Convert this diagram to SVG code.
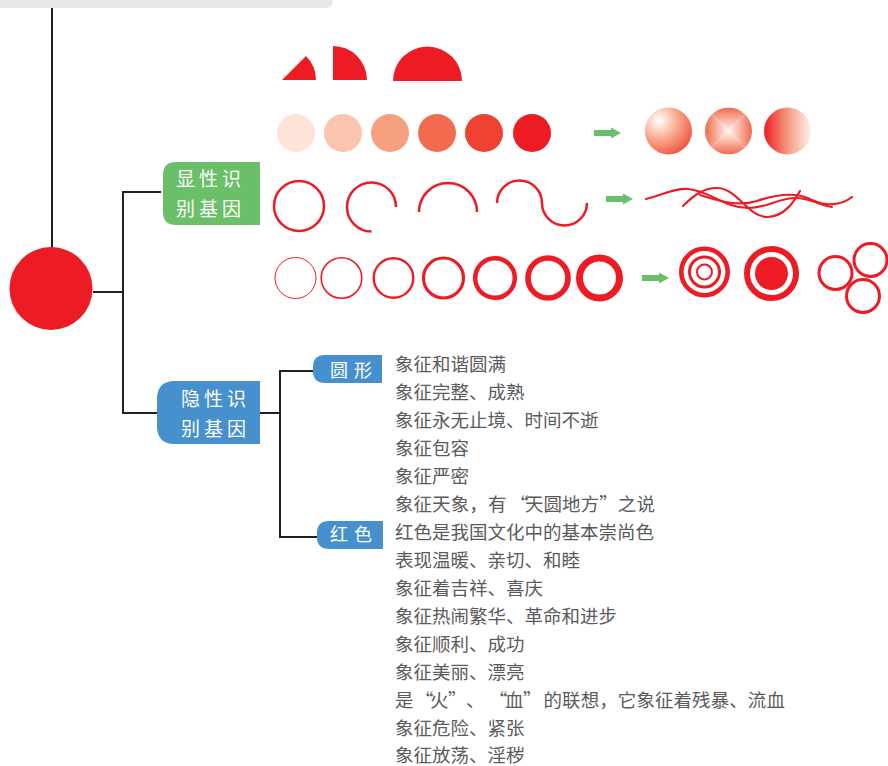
<svg xmlns="http://www.w3.org/2000/svg" width="888" height="766" viewBox="0 0 888 766">
  <defs>
    <style>
      .ln { stroke: #231f20; stroke-width: 2; fill: none; }
      .red { fill: #ed1c24; }
      .ring { fill: none; stroke: #ed1c24; }
      .arc { fill: none; stroke: #ed1c24; stroke-width: 2.5; stroke-linecap: butt; }
      .wave { fill: none; stroke: #ed1c24; stroke-width: 2.2; stroke-linecap: round; }
      .lbl { font-family: "Noto Sans CJK SC", "Noto Sans", sans-serif; font-size: 19px; fill: #ffffff; letter-spacing: 4px; }
      .sm { font-family: "Noto Sans CJK SC", "Noto Sans", sans-serif; font-size: 18px; fill: #ffffff; letter-spacing: 6px; }
      .txt { font-family: "Noto Sans CJK SC", "Noto Sans", sans-serif; font-size: 18.5px; fill: #5a5b5d; }
      .arrow { fill: #6abf69; }
    </style>
    <radialGradient id="gBall" cx="0.3" cy="0.28" r="0.85">
      <stop offset="0" stop-color="#ffffff"/>
      <stop offset="0.45" stop-color="#f8ad92"/>
      <stop offset="1" stop-color="#ee4a32"/>
    </radialGradient>
    <linearGradient id="gSide" x1="0" y1="0" x2="1" y2="0">
      <stop offset="0" stop-color="#ed1c24"/>
      <stop offset="0.5" stop-color="#f49a7e"/>
      <stop offset="1" stop-color="#fdf0ea"/>
    </linearGradient>
    <!-- square gradient built from four triangles -->
    <linearGradient id="gT" x1="0" y1="0" x2="0" y2="1"><stop offset="0" stop-color="#f06a4c"/><stop offset="1" stop-color="#fff6f2"/></linearGradient>
    <linearGradient id="gB" x1="0" y1="1" x2="0" y2="0"><stop offset="0" stop-color="#f06a4c"/><stop offset="1" stop-color="#fff6f2"/></linearGradient>
    <linearGradient id="gL" x1="0" y1="0" x2="1" y2="0"><stop offset="0" stop-color="#f06a4c"/><stop offset="1" stop-color="#fff6f2"/></linearGradient>
    <linearGradient id="gR" x1="1" y1="0" x2="0" y2="0"><stop offset="0" stop-color="#f06a4c"/><stop offset="1" stop-color="#fff6f2"/></linearGradient>
    <clipPath id="cSq"><circle cx="728.5" cy="131" r="23.5"/></clipPath>
    <symbol id="garrow" viewBox="0 0 27 10" overflow="visible">
      <path class="arrow" d="M0,2 H17 V-0.5 L27,5 L17,10.5 V8 H0 Z"/>
    </symbol>
  </defs>

  <!-- header band -->
  <path d="M0,0 H333 V0 Q333,8 325,8 H0 Z" fill="#e6e7e8"/>

  <!-- connectors -->
  <g id="connectors">
    <line class="ln" x1="52" y1="8" x2="52" y2="248"/>
    <line class="ln" x1="93" y1="292" x2="123" y2="292"/>
    <path class="ln" d="M161,192 H123 V413 H160"/>
    <line class="ln" x1="260" y1="413" x2="280" y2="413"/>
    <path class="ln" d="M313,371 H280 V537 H317"/>
  </g>

  <!-- root -->
  <g id="root">
    <circle class="red" cx="51" cy="288.5" r="41.5"/>
  </g>

  <!-- explicit genes -->
  <g id="explicit">
    <path d="M176,162 H260 V225 H176 Q163,225 163,212 V175 Q163,162 176,162 Z" fill="#6abf69"/>
    <text class="lbl" x="176" y="186">显性识</text>
    <text class="lbl" x="176" y="216">别基因</text>
  </g>

  <!-- implicit genes -->
  <g id="implicit">
    <path d="M175,381 H260 V444 H175 Q157,444 157,426 V399 Q157,381 175,381 Z" fill="#4690cd"/>
    <text class="lbl" x="181" y="406">隐性识</text>
    <text class="lbl" x="181" y="436">别基因</text>
  </g>

  <g id="shape">
    <path d="M325,355 H382 V383 H325 Q313,383 313,371 V367 Q313,355 325,355 Z" fill="#4690cd"/>
    <text class="sm" x="330" y="377">圆形</text>
  </g>

  <g id="colour">
    <path d="M329,521 H383 V549 H329 Q317,549 317,537 V533 Q317,521 329,521 Z" fill="#4690cd"/>
    <text class="sm" x="330" y="541">红色</text>
  </g>

  <!-- row 1: sectors -->
  <g id="sectors">
    <path class="red" d="M282,80 L306,56 A34,34 0 0 1 316,80 Z"/>
    <path class="red" d="M333,80 V46 A34,34 0 0 1 367,80 Z"/>
    <path class="red" d="M393,81 A34.5,34.5 0 0 1 462,81 Z"/>
  </g>

  <!-- row 2: tints and gradients -->
  <g id="tints">
    <circle cx="296" cy="133" r="19" fill="#fde3d8"/>
    <circle cx="343" cy="133" r="19" fill="#fbc4ae"/>
    <circle cx="390" cy="133" r="19" fill="#f79f81"/>
    <circle cx="437" cy="133" r="19" fill="#f36b4f"/>
    <circle cx="484" cy="133" r="19" fill="#ef4232"/>
    <circle cx="532" cy="133" r="19" fill="#ed1c24"/>
    <use href="#garrow" x="594" y="128" width="27" height="10"/>
    <circle cx="668.5" cy="131" r="23.5" fill="url(#gBall)"/>
    <g clip-path="url(#cSq)">
      <polygon points="705,107.5 752,107.5 728.5,131" fill="url(#gT)"/>
      <polygon points="705,154.5 752,154.5 728.5,131" fill="url(#gB)"/>
      <polygon points="705,107.5 705,154.5 728.5,131" fill="url(#gL)"/>
      <polygon points="752,107.5 752,154.5 728.5,131" fill="url(#gR)"/>
    </g>
    <circle cx="787.5" cy="131" r="23.5" fill="url(#gSide)"/>
  </g>

  <!-- row 3: arcs and waves -->
  <g id="arcs">
    <circle class="arc" cx="299" cy="206" r="25"/>
    <path class="arc" d="M396,207 A24.5,24.5 0 1 0 371.5,231.5"/>
    <path class="arc" d="M419,212 A29,29 0 0 1 477,212"/>
    <path class="arc" d="M497,203 A22.5,22.5 0 0 1 542,203 A22.5,22.5 0 0 0 587,203"/>
    <use href="#garrow" x="606" y="194" width="27" height="10"/>
    <path class="wave" d="M646,199 C665,194 675,188 688,189 C710,191 725,208 748,208 C768,208 778,198 795,198 C812,198 820,206 832,207"/>
    <path class="wave" d="M683,206 C693,196 703,188 717,188 C737,188 748,217 767,217 C785,217 795,200 800,191"/>
    <path class="wave" d="M700,195 C720,201 737,207 757,201 C777,194 797,192 812,200 C827,207 842,205 852,197"/>
  </g>

  <!-- row 4: rings -->
  <g id="rings">
    <circle class="ring" cx="295.5" cy="278" r="20.5" stroke-width="1"/>
    <circle class="ring" cx="341.5" cy="278" r="20.3" stroke-width="1.6"/>
    <circle class="ring" cx="393.5" cy="278" r="19.8" stroke-width="2.4"/>
    <circle class="ring" cx="443.5" cy="278" r="20" stroke-width="3.2"/>
    <circle class="ring" cx="495" cy="278" r="19.8" stroke-width="4.5"/>
    <circle class="ring" cx="548" cy="278" r="20" stroke-width="5.6"/>
    <circle class="ring" cx="599.5" cy="278" r="20" stroke-width="7"/>
    <use href="#garrow" x="642" y="273" width="27" height="10"/>
    <circle class="ring" cx="704.5" cy="272" r="23.2" stroke-width="4.6"/>
    <circle class="ring" cx="704.5" cy="272" r="15" stroke-width="3"/>
    <circle class="ring" cx="704.5" cy="272" r="7.5" stroke-width="2"/>
    <circle class="ring" cx="771.5" cy="273.5" r="24.5" stroke-width="6"/>
    <circle class="red" cx="771.5" cy="273.5" r="16.5"/>
    <circle class="ring" cx="835.5" cy="273" r="16.5" stroke-width="3"/>
    <circle class="ring" cx="870.5" cy="260" r="16.5" stroke-width="3"/>
    <circle class="ring" cx="863" cy="296" r="16.5" stroke-width="3"/>
  </g>

  <!-- meanings -->
  <g id="meanings">
    <text class="txt" x="395" y="371">象征和谐圆满</text>
    <text class="txt" x="395" y="399">象征完整、成熟</text>
    <text class="txt" x="395" y="427">象征永无止境、时间不逝</text>
    <text class="txt" x="395" y="455">象征包容</text>
    <text class="txt" x="395" y="483">象征严密</text>
    <text class="txt" x="395 413.6 432.1 450.7 469.3 487.9 510 525 543.6 562.1 580.7 599.3 617.8 636.4" y="511">象征天象，有“天圆地方”之说</text>
    <text class="txt" x="395" y="539">红色是我国文化中的基本崇尚色</text>
    <text class="txt" x="395" y="567">表现温暖、亲切、和睦</text>
    <text class="txt" x="395" y="595">象征着吉祥、喜庆</text>
    <text class="txt" x="395" y="623">象征热闹繁华、革命和进步</text>
    <text class="txt" x="395" y="651">象征顺利、成功</text>
    <text class="txt" x="395" y="679">象征美丽、漂亮</text>
    <text class="txt" x="395 415 430 448 466 489 505 523 543.6 562.1 580.7 599.3 617.8 636.4 655 673.6 692.1 710.7 729.3 747.8 766.4" y="707">是“火”、“血”的联想，它象征着残暴、流血</text>
    <text class="txt" x="395" y="735">象征危险、紧张</text>
    <text class="txt" x="395" y="762">象征放荡、淫秽</text>
  </g>
</svg>
